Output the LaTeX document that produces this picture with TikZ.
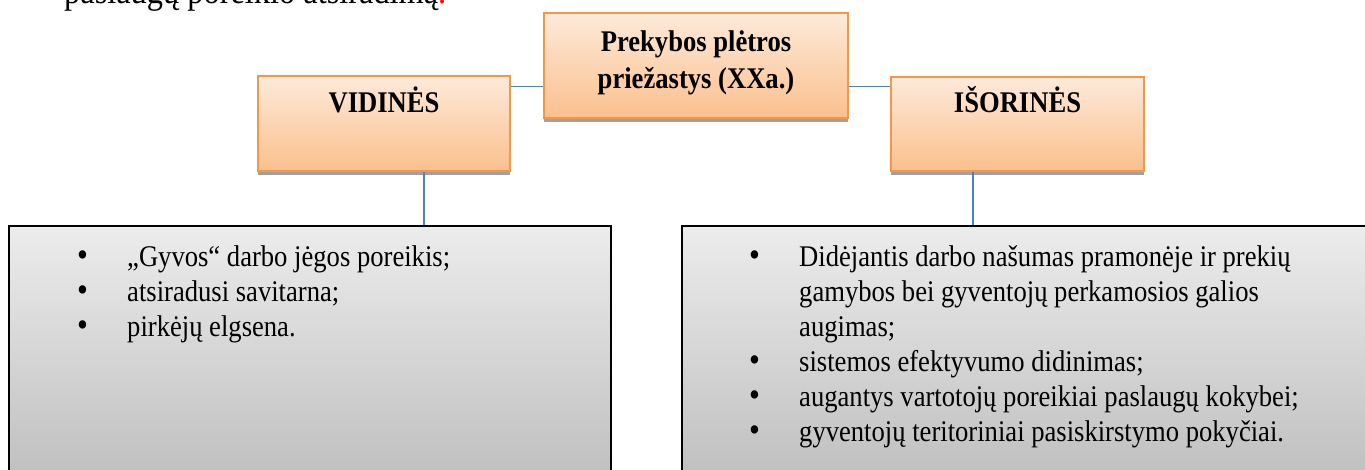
\documentclass[tikz,border=0pt]{standalone}
\usepackage{fontspec}
\setmainfont{Liberation Serif}[FakeStretch=0.887]
\usepackage{array}
\usetikzlibrary{shadows}
\definecolor{frameorange}{HTML}{F79646}
\definecolor{peachtop}{HTML}{FDEADA}
\definecolor{peachbot}{HTML}{FBC08D}
\definecolor{greytop}{HTML}{ECECEC}
\definecolor{greybot}{HTML}{BFBFBF}
\definecolor{linkblue}{HTML}{4F81BD}
\definecolor{shadowgrey}{HTML}{A0A0A0}
% list bullet, a little heavier than the text bullet
\newcommand{\listdot}{\smash{\fontsize{35}{35}\selectfont\textbullet}}
\begin{document}
\begin{tikzpicture}[x=1pt,y=-1pt,
  headbox/.style={rectangle, inner sep=0pt, draw=frameorange, line width=2pt,
    top color=peachtop, bottom color=peachbot,
    drop shadow={shadow xshift=0pt, shadow yshift=-4pt, fill=shadowgrey, opacity=1}},
  listbox/.style={rectangle, inner sep=0pt, draw=black, line width=2pt,
    top color=greytop, bottom color=greybot},
  headtext/.style={inner sep=0pt, anchor=base, align=center,
    font=\fontsize{30}{37}\selectfont\bfseries},
  listtext/.style={inner sep=0pt, anchor=base west, align=left,
    font=\fontsize{30}{35}\selectfont},
  link/.style={draw=linkblue, line width=1.6pt}]
\useasboundingbox (0,0) rectangle (1365,470);
\clip (0,0) rectangle (1365,470);

% lead-in sentence above the chart
\node[inner sep=0pt, anchor=base west, font=\fontsize{36.5}{40}\selectfont] (lead)
  at (64,4) {paslaugų poreikio atsiradimą\textcolor{red}{.}};

% heading boxes
\node[headbox, minimum width=304pt, minimum height=105pt] (cen) at (696,65.5) {};
\node[headbox, minimum width=252pt, minimum height=95pt] (vid) at (384,123.5) {};
\node[headbox, minimum width=253pt, minimum height=94pt] (iso) at (1017.5,123.7) {};

% a multi-line node sits on the baseline of its last line
\node[headtext] (centxt) at (696,89) {Prekybos plėtros\\priežastys (XXa.)};
\node[headtext] (vidtxt) at (384,113) {VIDINĖS};
\node[headtext] (isotxt) at (1017.5,113) {IŠORINĖS};

% lists of causes
\node[listbox, minimum width=602pt, minimum height=254pt] (lft) at (310,353) {};
\node[listbox, minimum width=693pt, minimum height=254pt] (rgt) at (1028.5,353) {};

\node[listtext] (lftlist) at (77,267) {%
  \begin{tabular}[t]{@{}p{50pt}@{}l@{}}
  \listdot & „Gyvos“ darbo jėgos poreikis;\\
  \listdot & atsiradusi savitarna;\\
  \listdot & pirkėjų elgsena.
  \end{tabular}};
\node[listtext] (rgtlist) at (749,267) {%
  \begin{tabular}[t]{@{}p{50pt}@{}l@{}}
  \listdot & Didėjantis darbo našumas pramonėje ir prekių\\
           & gamybos bei gyventojų perkamosios galios\\
           & augimas;\\
  \listdot & sistemos efektyvumo didinimas;\\
  \listdot & augantys vartotojų poreikiai paslaugų kokybei;\\
  \listdot & gyventojų teritoriniai pasiskirstymo pokyčiai.
  \end{tabular}};

% connectors
\coordinate (hy) at (0,86.7);
\coordinate (vx) at (424,0);
\coordinate (ix) at (973,0);
\draw[link] (vid.east |- hy) -- (cen.west |- hy);
\draw[link] (cen.east |- hy) -- (iso.west |- hy);
\draw[link] (vid.south -| vx) -- (lft.north -| vx);
\draw[link] (iso.south -| ix) -- (rgt.north -| ix);
\end{tikzpicture}
\end{document}
